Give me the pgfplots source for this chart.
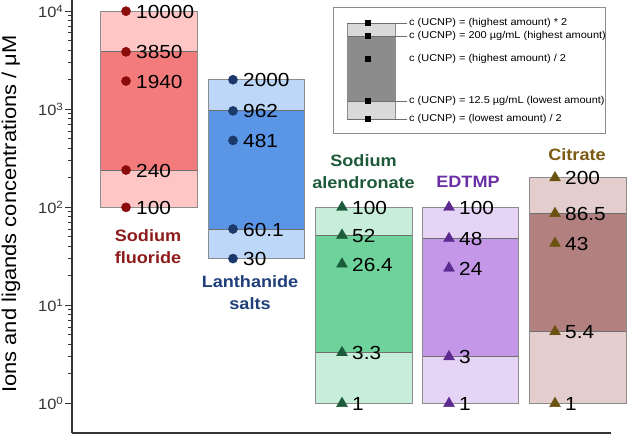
\documentclass[border=0pt]{standalone}
\usepackage{pgfplots}
\pgfplotsset{compat=1.18}
\usepackage{fontspec}
\setmainfont{Liberation Sans}[FakeStretch=1.1]
\definecolor{axcol}{HTML}{333333}
\definecolor{boxline}{HTML}{8C8C8C}
\definecolor{innerline}{HTML}{6E6E6E}
\definecolor{nafOut}{HTML}{FFC6C6}
\definecolor{nafIn}{HTML}{F47B7B}
\definecolor{nafMark}{HTML}{8B0A0A}
\definecolor{nafLab}{HTML}{8E1B1B}
\definecolor{lanOut}{HTML}{BDD7F8}
\definecolor{lanIn}{HTML}{5A95E6}
\definecolor{lanMark}{HTML}{1B3A6B}
\definecolor{lanLab}{HTML}{1F3F7A}
\definecolor{aleOut}{HTML}{C6EED8}
\definecolor{aleIn}{HTML}{6DD39A}
\definecolor{aleMark}{HTML}{1D5B3B}
\definecolor{aleLab}{HTML}{1E5A3A}
\definecolor{edtOut}{HTML}{E6D4F6}
\definecolor{edtIn}{HTML}{C597E8}
\definecolor{edtMark}{HTML}{5C2A90}
\definecolor{edtLab}{HTML}{6B2FA5}
\definecolor{citOut}{HTML}{E3CDCD}
\definecolor{citIn}{HTML}{B38080}
\definecolor{citMark}{HTML}{6B5211}
\definecolor{citLab}{HTML}{7B5A12}
\definecolor{legLight}{HTML}{D9D9D9}
\definecolor{legDark}{HTML}{8C8C8C}
\newcommand{\numfont}{\fontsize{19}{20}\selectfont}
\newcommand{\labfont}{\fontsize{16.5}{22}\selectfont\bfseries}
\newcommand{\legfont}{\fontsize{10}{12}\selectfont}
% left, right, outer bottom, inner bottom, inner top, outer top, outer colour, inner colour
\newcommand{\ubox}[8]{%
 \addplot[fill=#7, draw=none] coordinates {(#1,#3) (#2,#3) (#2,#6) (#1,#6)} --cycle;
 \addplot[fill=#8, draw=none] coordinates {(#1,#4) (#2,#4) (#2,#5) (#1,#5)} --cycle;
 \addplot[draw=innerline, line width=0.9bp] coordinates {(#1,#4) (#2,#4)};
 \addplot[draw=innerline, line width=0.9bp] coordinates {(#1,#5) (#2,#5)};
 \addplot[draw=boxline, line width=1bp] coordinates {(#1,#3) (#2,#3) (#2,#6) (#1,#6)} --cycle;
}
\pgfplotsset{
 valmarks/.style={only marks, color=#1, mark options={draw=#1, fill=#1},
   nodes near coords, point meta=explicit symbolic,
   nodes near coords style={anchor=west, xshift=9bp, yshift=-0.5bp, inner sep=1bp, text=black, font=\numfont}},
}
\begin{document}
\begin{tikzpicture}
\useasboundingbox (0,0) rectangle (628bp,437bp);
\begin{axis}[
  at={(72bp,4bp)}, anchor=south west, scale only axis,
  width=539bp, height=433bp,
  xmin=72, xmax=611,
  ymode=log, ymin=0.5, ymax=13000,
  clip=false,
  axis x line*=bottom, axis y line*=left,
  axis line style={line width=2bp, color=axcol},
  xtick=\empty,
  ytick={1,10,100,1000,10000},
  yticklabels={10\textsuperscript{0},10\textsuperscript{1},10\textsuperscript{2},10\textsuperscript{3},10\textsuperscript{4}},
  yticklabel style={font=\fontsize{15}{15}\selectfont, inner sep=1.5bp, text=axcol},
  tick align=outside,
  major tick length=7bp, minor tick length=4bp,
  major tick style={line width=1.3bp, color=axcol},
  minor tick style={line width=1bp, color=axcol},
]
\ubox{100}{197}{100}{240}{3850}{10000}{nafOut}{nafIn}
\ubox{208}{304}{30}{60.1}{962}{2000}{lanOut}{lanIn}
\ubox{315}{412}{1}{3.3}{52}{100}{aleOut}{aleIn}
\ubox{422}{518}{1}{3}{48}{100}{edtOut}{edtIn}
\ubox{529}{626}{1}{5.4}{86.5}{200}{citOut}{citIn}

\addplot[valmarks=nafMark, mark=*, mark size=4.6bp] coordinates {
 (126,10000) [10000] (126,3850) [3850] (126,1940) [1940] (126,240) [240] (126,100) [100]};
\addplot[valmarks=lanMark, mark=*, mark size=4.6bp] coordinates {
 (233,2000) [2000] (233,962) [962] (233,481) [481] (233,60.1) [60.1] (233,30) [30]};
\addplot[valmarks=aleMark, mark=triangle*, mark size=6.3bp] coordinates {
 (342,100) [100] (342,52) [52] (342,26.4) [26.4] (342,3.3) [3.3] (342,1) [1]};
\addplot[valmarks=edtMark, mark=triangle*, mark size=6.3bp] coordinates {
 (449,100) [100] (449,48) [48] (449,24) [24] (449,3) [3] (449,1) [1]};
\addplot[valmarks=citMark, mark=triangle*, mark size=6.3bp] coordinates {
 (555,200) [200] (555,86.5) [86.5] (555,43) [43] (555,5.4) [5.4] (555,1) [1]};
\end{axis}

% overlay in pixel coordinates for labels and the key
\begin{axis}[
  at={(0,0)}, anchor=south west, scale only axis,
  width=628bp, height=437bp,
  xmin=0, xmax=628, ymin=0, ymax=437, y dir=reverse,
  hide axis, clip=false,
]
\node[rotate=90, font=\fontsize{20}{20}\selectfont, text=black] at (axis cs:11,214) {Ions and ligands concentrations / μM};
\node[font=\labfont, text=nafLab, align=center] at (axis cs:148,247) {Sodium\\fluoride};
\node[font=\labfont, text=lanLab, align=center] at (axis cs:250,293) {Lanthanide\\salts};
\node[font=\labfont, text=aleLab, align=center] at (axis cs:363.5,171.5) {Sodium\\alendronate};
\node[font=\labfont, text=edtLab, align=center] at (axis cs:468,182) {EDTMP};
\node[font=\labfont, text=citLab, align=center] at (axis cs:577,155) {Citrate};

\draw[boxline, line width=0.9bp] (axis cs:333,7) rectangle (axis cs:605,133);
\addplot[fill=legLight, draw=none] coordinates {(347,23) (395,23) (395,119) (347,119)} --cycle;
\addplot[fill=legDark, draw=none] coordinates {(347,36) (395,36) (395,101) (347,101)} --cycle;
\addplot[draw=boxline, line width=0.8bp] coordinates {(347,23) (395,23) (395,119) (347,119)} --cycle;
\addplot[draw=innerline, line width=0.8bp] coordinates {(347,23) (407,23)};
\addplot[draw=innerline, line width=0.8bp] coordinates {(347,36) (407,36)};
\addplot[draw=innerline, line width=0.8bp] coordinates {(347,101) (407,101)};
\addplot[draw=innerline, line width=0.8bp] coordinates {(347,119) (407,119)};
\addplot[only marks, mark=square*, mark size=2.4bp, color=black] coordinates {(368,23) (368,36) (368,59) (368,101) (368,119)};
\node[anchor=west, font=\legfont, inner sep=1bp] at (axis cs:408,23) {c (UCNP) = (highest amount) * 2};
\node[anchor=west, font=\legfont, inner sep=1bp] at (axis cs:408,36) {c (UCNP) = 200 µg/mL (highest amount)};
\node[anchor=west, font=\legfont, inner sep=1bp] at (axis cs:408,59) {c (UCNP) = (highest amount) / 2};
\node[anchor=west, font=\legfont, inner sep=1bp] at (axis cs:408,101) {c (UCNP) = 12.5 µg/mL (lowest amount)};
\node[anchor=west, font=\legfont, inner sep=1bp] at (axis cs:408,119) {c (UCNP) = (lowest amount) / 2};
\end{axis}
\end{tikzpicture}
\end{document}
